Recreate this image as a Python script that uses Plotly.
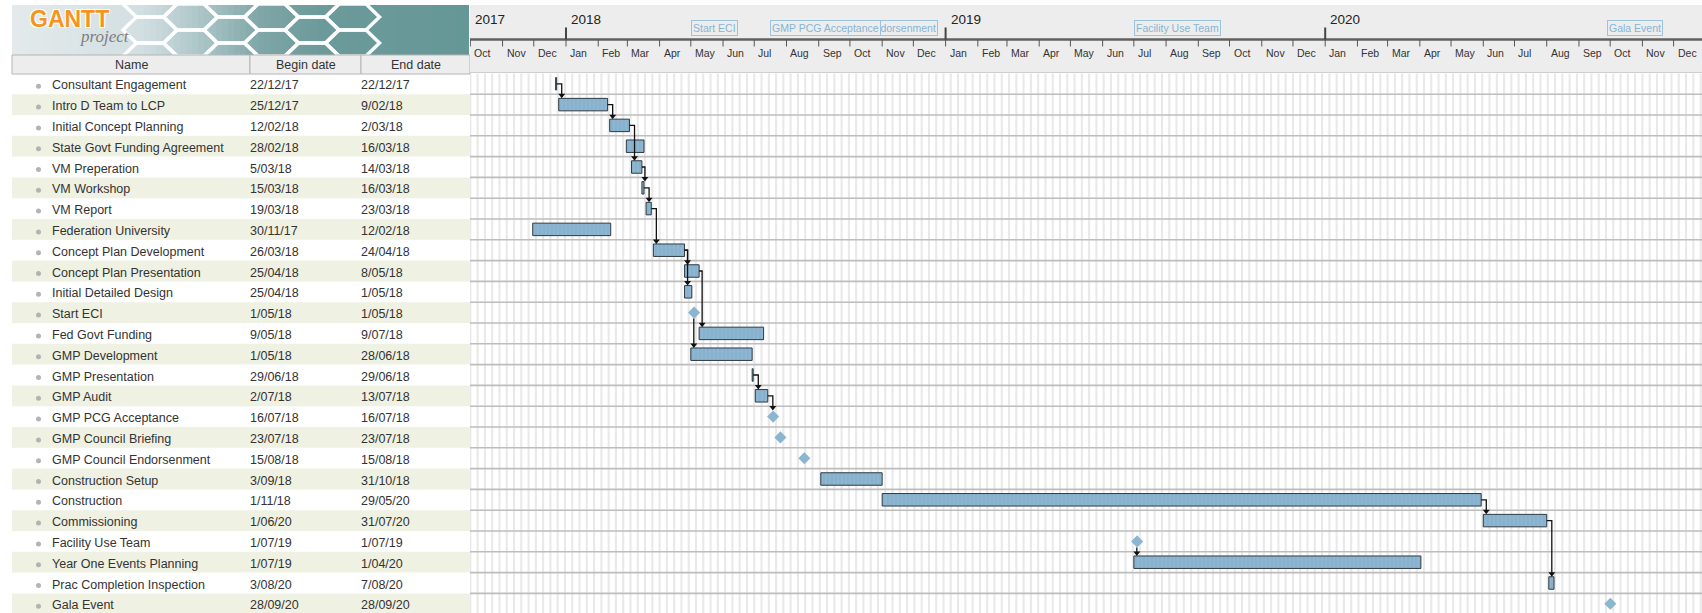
import pandas as pd
import plotly.graph_objects as go
from datetime import datetime

# ---------------- data ----------------
task_names = [
    "Consultant Engagement", "Intro D Team to LCP", "Initial Concept Planning",
    "State Govt Funding Agreement", "VM Preperation", "VM Workshop", "VM Report",
    "Federation University", "Concept Plan Development", "Concept Plan Presentation",
    "Initial Detailed Design", "Start ECI", "Fed Govt Funding", "GMP Development",
    "GMP Presentation", "GMP Audit", "GMP PCG Acceptance", "GMP Council Briefing",
    "GMP Council Endorsenment", "Construction Setup", "Construction", "Commissioning",
    "Facility Use Team", "Year One Events Planning", "Prac Completion Inspection", "Gala Event",
]
begin_dates = [
    "22/12/17", "25/12/17", "12/02/18", "28/02/18", "5/03/18", "15/03/18", "19/03/18",
    "30/11/17", "26/03/18", "25/04/18", "25/04/18", "1/05/18", "9/05/18", "1/05/18",
    "29/06/18", "2/07/18", "16/07/18", "23/07/18", "15/08/18", "3/09/18", "1/11/18",
    "1/06/20", "1/07/19", "1/07/19", "3/08/20", "28/09/20",
]
end_dates = [
    "22/12/17", "9/02/18", "2/03/18", "16/03/18", "14/03/18", "16/03/18", "23/03/18",
    "12/02/18", "24/04/18", "8/05/18", "1/05/18", "1/05/18", "9/07/18", "28/06/18",
    "29/06/18", "13/07/18", "16/07/18", "23/07/18", "15/08/18", "31/10/18", "29/05/20",
    "31/07/20", "1/07/19", "1/04/20", "7/08/20", "28/09/20",
]
milestone_flags = [
    False, False, False, False, False, False, False, False, False, False, False, True,
    False, False, False, False, True, True, True, False, False, False, True, False,
    False, True,
]
dependencies = [(0, 1), (1, 2), (2, 4), (4, 5), (5, 6), (6, 8), (8, 9), (8, 10),
                (9, 12), (11, 13), (14, 15), (15, 16), (20, 21), (21, 24), (22, 23)]
timeline_milestones = ["Start ECI", "GMP Council Endorsenment", "GMP PCG Acceptance",
                       "Facility Use Team", "Gala Event"]
column_headers = ["Name", "Begin date", "End date"]

# ---------------- geometry / styling ----------------
W, H = 1702, 613
ROW_H = 20.8
BODY_TOP = 73.4
CHART_LEFT = 470
TABLE_LEFT = 12
DAY_PX = 1.04
REF_DATE = pd.Timestamp("2018-01-01")
REF_X = 566.0
FONT = "Liberation Sans, Arial, sans-serif"
TEXT_DY = 2.5 / ROW_H


def PX(x):
    return x / W


def PY(y):
    return 1 - y / H


begin_dt = [pd.Timestamp(datetime.strptime(s, "%d/%m/%y")) for s in begin_dates]
end_dt = [pd.Timestamp(datetime.strptime(s, "%d/%m/%y")) for s in end_dates]
n = len(task_names)

x_start = REF_DATE + pd.Timedelta(days=(CHART_LEFT - REF_X) / DAY_PX)
x_end = REF_DATE + pd.Timedelta(days=(W - REF_X) / DAY_PX)
n_vis = (H - BODY_TOP) / ROW_H
body_top_paper = PY(BODY_TOP)

BAR_HALF = 0.3
DIAMOND_HALF = 6.0 / ROW_H
MS_OFFSET = pd.Timedelta(days=3.3 / DAY_PX)
ARROW_DX = pd.Timedelta(days=3.0 / DAY_PX)


def iso(t):
    return t.strftime("%Y-%m-%d %H:%M:%S")


fig = go.Figure()

# ---------------- chart traces ----------------
task_idx = [i for i in range(n) if not milestone_flags[i]]
fig.add_trace(go.Bar(
    orientation="h",
    y=[i + 0.5 for i in task_idx],
    x=[(end_dt[i] + pd.Timedelta(days=1) - begin_dt[i]).total_seconds() * 1000 for i in task_idx],
    base=[iso(begin_dt[i]) for i in task_idx],
    width=0.6,
    marker=dict(color="#8db6d1", line=dict(color="#2f3a42", width=1),
                pattern=dict(shape="|", fillmode="overlay", fgcolor="#79a2be", size=4, solidity=0.3)),
    xaxis="x", yaxis="y", hoverinfo="skip", showlegend=False,
))

ms_idx = [i for i in range(n) if milestone_flags[i]]
fig.add_trace(go.Scatter(
    mode="markers",
    x=[iso(begin_dt[i] + MS_OFFSET) for i in ms_idx],
    y=[i + 0.5 for i in ms_idx],
    marker=dict(symbol="diamond", size=9.3, color="#8ab6d2", line=dict(width=0)),
    xaxis="x", yaxis="y", hoverinfo="skip", showlegend=False,
))

conn_x, conn_y, head_x, head_y = [], [], [], []
for p, s in dependencies:
    xa = begin_dt[s] + ARROW_DX
    yp = p + 0.5
    ys_top = s + 0.5 - (DIAMOND_HALF if milestone_flags[s] else BAR_HALF)
    if milestone_flags[p]:
        conn_x += [iso(xa), iso(xa), None]
        conn_y += [yp + DIAMOND_HALF, ys_top - 0.1, None]
    else:
        xe = end_dt[p] + pd.Timedelta(days=1)
        conn_x += [iso(xe), iso(xa), iso(xa), None]
        conn_y += [yp, yp, ys_top - 0.1, None]
    head_x.append(iso(xa))
    head_y.append(ys_top - 3.0 / ROW_H)

fig.add_trace(go.Scatter(
    mode="lines", x=conn_x, y=conn_y, line=dict(color="#111111", width=1.3),
    xaxis="x", yaxis="y", hoverinfo="skip", showlegend=False, connectgaps=False,
))
fig.add_trace(go.Scatter(
    mode="markers", x=head_x, y=head_y,
    marker=dict(symbol="triangle-down", size=6, color="#111111"),
    xaxis="x", yaxis="y", hoverinfo="skip", showlegend=False,
))

# ---------------- table traces ----------------
fig.add_trace(go.Scatter(
    mode="markers", x=[38.5] * n, y=[i + 0.5 + TEXT_DY for i in range(n)],
    marker=dict(size=5, color="#b3b3b3"),
    xaxis="x2", yaxis="y", hoverinfo="skip", showlegend=False,
))
for col_x, texts in [(52, task_names), (250, begin_dates), (361, end_dates)]:
    fig.add_trace(go.Scatter(
        mode="text", x=[col_x] * n, y=[i + 0.5 + TEXT_DY for i in range(n)], text=texts,
        textposition="middle right",
        textfont=dict(family=FONT, size=12.5, color="#333333"),
        xaxis="x2", yaxis="y", hoverinfo="skip", showlegend=False, cliponaxis=False,
    ))

shapes = []
annotations = []


def prect(x0, y0, x1, y1, fill, line_color=None, lw=0, layer="above"):
    shapes.append(dict(type="rect", xref="paper", yref="paper",
                       x0=PX(x0), x1=PX(x1), y0=PY(y1), y1=PY(y0),
                       fillcolor=fill, line=dict(width=lw, color=line_color or fill),
                       layer=layer))


def pline(x0, y0, x1, y1, color, lw, layer="above"):
    shapes.append(dict(type="line", xref="paper", yref="paper",
                       x0=PX(x0), x1=PX(x1), y0=PY(y0), y1=PY(y1),
                       line=dict(color=color, width=lw), layer=layer))


# ---------------- logo ----------------
stops = [(12, (228, 234, 236)), (140, (211, 223, 226)), (200, (172, 198, 200)),
         (260, (128, 166, 167)), (320, (108, 154, 154)), (470, (102, 151, 151))]


def grad(x):
    for (xa, ca), (xb, cb) in zip(stops[:-1], stops[1:]):
        if xa <= x <= xb:
            t = (x - xa) / (xb - xa)
            return "rgb(%d,%d,%d)" % tuple(round(ca[k] + t * (cb[k] - ca[k])) for k in range(3))
    return "rgb(102,151,151)"


step = 6
xx = 12
while xx < 469:
    prect(xx, 5, min(xx + step + 0.6, 469), 55, grad(xx + step / 2))
    xx += step

R, h = 27.0, 13.0
for k in range(-1, 9):
    cx = 150 + k * 1.5 * R
    if cx < 150 or cx > 372:
        continue
    for j in range(-1, 4):
        cy = 4 + j * 2 * h + (k % 2) * h
        if cy + h > 72 or cy - h < -12:
            continue
        pts = [(cx - R, cy), (cx - R / 2, cy - h), (cx + R / 2, cy - h),
               (cx + R, cy), (cx + R / 2, cy + h), (cx - R / 2, cy + h)]
        path = "M " + " L ".join("%f,%f" % (PX(a), PY(b)) for a, b in pts) + " Z"
        shapes.append(dict(type="path", xref="paper", yref="paper", path=path,
                           line=dict(color="rgba(255,255,255,0.95)", width=3.5),
                           fillcolor="rgba(0,0,0,0)", layer="above"))
prect(0, 0, 470, 5, "white")
prect(0, 0, 12, 56, "white")

annotations.append(dict(
    xref="paper", yref="paper", x=PX(69), y=PY(18.5), text="GANTT", showarrow=False,
    xanchor="center", yanchor="middle",
    font=dict(family=FONT, size=23, color="#f7941d", weight="bold",
              shadow="-1px -1px 0 #fff, 1px -1px 0 #fff, -1px 1px 0 #fff, 1px 1px 0 #fff"),
))
annotations.append(dict(
    xref="paper", yref="paper", x=PX(105), y=PY(37), text="project", showarrow=False,
    xanchor="center", yanchor="middle",
    font=dict(family="Liberation Serif, serif", size=17, color="#7d7d7d", style="italic"),
))

# ---------------- table header ----------------
cells = [(12, 250), (250, 361), (361, 470)]
for (a, b), label in zip(cells, column_headers):
    prect(a, 55, b, 74, "#ededed", "#b5b5b5", 1)
    annotations.append(dict(
        xref="paper", yref="paper", x=PX((a + b) / 2), y=PY(65), text=label,
        showarrow=False, xanchor="center", yanchor="middle",
        font=dict(family=FONT, size=12.5, color="#333333"),
    ))

# ---------------- timeline header ----------------
prect(470, 5, 1702, 72, "#ededed")
pline(470, 72.5, 1702, 72.5, "#cfcfcf", 1)
pline(470, 39.5, 1702, 39.5, "#606060", 2.5)

months = pd.date_range("2017-10-01", "2020-12-01", freq="MS")
for m in months:
    shapes.append(dict(type="line", xref="x", yref="paper", x0=iso(m), x1=iso(m),
                       y0=PY(39.5), y1=PY(46.5), line=dict(color="#555555", width=1),
                       layer="above"))
    annotations.append(dict(
        xref="x", yref="paper", x=iso(m), y=PY(53), text=m.strftime("%b"),
        showarrow=False, xanchor="left", yanchor="middle", xshift=2,
        font=dict(family=FONT, size=10.5, color="#333333"),
    ))
    if m.month == 1:
        shapes.append(dict(type="line", xref="x", yref="paper", x0=iso(m), x1=iso(m),
                           y0=PY(27.5), y1=PY(39.5), line=dict(color="#444444", width=2),
                           layer="above"))

for yr in [2017, 2018, 2019, 2020]:
    t = pd.Timestamp("%d-01-01" % yr)
    if t < x_start:
        t = x_start + pd.Timedelta(hours=2)
    annotations.append(dict(
        xref="x", yref="paper", x=iso(t), y=PY(19.5), text=str(yr),
        showarrow=False, xanchor="left", yanchor="middle", xshift=3,
        font=dict(family=FONT, size=13.5, color="#222222"),
    ))

for name in timeline_milestones:
    i = task_names.index(name)
    annotations.append(dict(
        xref="x", yref="paper", x=iso(begin_dt[i]), y=PY(28.2), text=name,
        showarrow=False, xanchor="left", yanchor="middle",
        font=dict(family=FONT, size=10.5, color="#86b4d4"),
        bordercolor="#9cc3dd", borderwidth=1, borderpad=1, bgcolor="#ededed",
    ))

# ---------------- body background ----------------
sats = pd.date_range(x_start.normalize() - pd.Timedelta(days=7), x_end, freq="W-SAT")
for s in sats:
    shapes.append(dict(type="rect", xref="x", yref="paper", x0=iso(s),
                       x1=iso(s + pd.Timedelta(days=2)), y0=0, y1=body_top_paper,
                       fillcolor="#e9e9e9", line=dict(width=0), layer="below"))

for i in range(n):
    if i % 2 == 1:
        shapes.append(dict(type="rect", xref="paper", yref="y", x0=PX(TABLE_LEFT),
                           x1=PX(CHART_LEFT), y0=i, y1=i + 1, fillcolor="#eff1e2",
                           line=dict(width=0), layer="below"))
for i in range(1, n + 1):
    shapes.append(dict(type="line", xref="paper", yref="y", x0=PX(CHART_LEFT), x1=1,
                       y0=i, y1=i, line=dict(color="#bdbdbd", width=1.6), layer="below"))

fig.update_layout(
    width=W, height=H, margin=dict(l=0, r=0, t=0, b=0),
    paper_bgcolor="white", plot_bgcolor="rgba(0,0,0,0)", showlegend=False,
    xaxis=dict(type="date", range=[iso(x_start), iso(x_end)], domain=[PX(CHART_LEFT), 1],
               visible=False, anchor="y", fixedrange=True),
    xaxis2=dict(range=[0, CHART_LEFT], domain=[0, PX(CHART_LEFT)], visible=False,
                anchor="y", fixedrange=True),
    yaxis=dict(range=[n_vis, 0], domain=[0, body_top_paper], visible=False,
               anchor="x", fixedrange=True),
    shapes=shapes, annotations=annotations,
    font=dict(family=FONT),
    hovermode=False,
)

fig.write_html(
    "out.html",
    config={"displayModeBar": False},
    post_script="document.body.style.margin='0px';document.body.style.overflow='hidden';",
)
